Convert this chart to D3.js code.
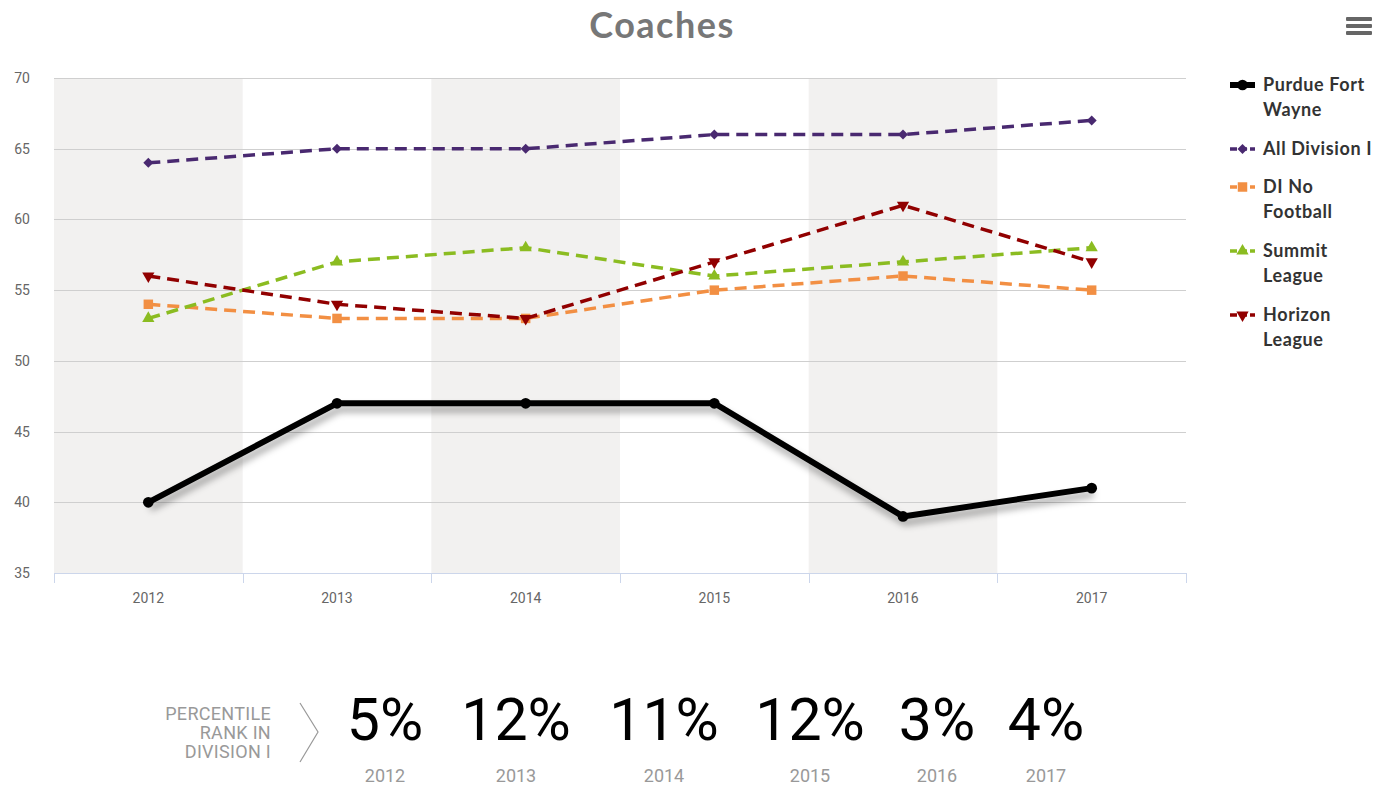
<!DOCTYPE html>
<html>
<head>
<meta charset="utf-8">
<script src="https://cdn.jsdelivr.net/npm/d3@7"></script>
<style>
  body { margin: 0; background: #fff; }
  svg { display: block; }
</style>
</head>
<body>
<svg id="chart" width="1392" height="788"></svg>
<script>
// data
var years = ["2012", "2013", "2014", "2015", "2016", "2017"];
var purdue = [40, 47, 47, 47, 39, 41];
var allDivI = [64, 65, 65, 66, 66, 67];
var diNoFootball = [54, 53, 53, 55, 56, 55];
var summit = [53, 57, 58, 56, 57, 58];
var horizon = [56, 54, 53, 57, 61, 57];
var yTicks = [35, 40, 45, 50, 55, 60, 65, 70];
var percentiles = ["5%", "12%", "11%", "12%", "3%", "4%"];
var percentileX = [385, 516, 664, 810, 937, 1046];

var series = [
    { name: ["Purdue Fort", "Wayne"], values: purdue, color: "#000000", symbol: "circle", dash: null, width: 6 },
    { name: ["All Division I"], values: allDivI, color: "#492970", symbol: "diamond", dash: "12,7", width: 3.5 },
    { name: ["DI No", "Football"], values: diNoFootball, color: "#f28f43", symbol: "square", dash: "12,7", width: 3.5 },
    { name: ["Summit", "League"], values: summit, color: "#8bbc21", symbol: "triangle", dash: "12,7", width: 3.5 },
    { name: ["Horizon", "League"], values: horizon, color: "#910000", symbol: "down", dash: "12,7", width: 3.5 }
];

var svg = d3.select("#chart");
var plotLeft = 54, plotRight = 1186, plotTop = 78, plotBottom = 573;

var x = d3.scaleBand().domain(years).range([plotLeft, plotRight]).padding(0);
var y = d3.scaleLinear().domain([35, 70]).range([plotBottom, plotTop]);
var cx = function (d, i) { return x(years[i]) + x.bandwidth() / 2; };

// shadow filter for the main line
var defs = svg.append("defs");
var f = defs.append("filter").attr("id", "shadow").attr("x", "-10%").attr("y", "-20%").attr("width", "120%").attr("height", "150%");
f.append("feDropShadow").attr("dx", 2).attr("dy", 6).attr("stdDeviation", 3.5)
    .attr("flood-color", "#000").attr("flood-opacity", 0.35);

// alternating bands
svg.append("g").selectAll("rect")
    .data(years.filter(function (d, i) { return i % 2 === 0; }))
    .enter().append("rect")
    .attr("x", function (d) { return x(d); })
    .attr("y", plotTop)
    .attr("width", x.bandwidth())
    .attr("height", plotBottom - plotTop)
    .attr("fill", "#f2f1f0");

// grid
svg.append("g").selectAll("line")
    .data(yTicks.slice(1))
    .enter().append("line")
    .attr("x1", plotLeft).attr("x2", plotRight)
    .attr("y1", function (d) { return Math.round(y(d)) + 0.5; })
    .attr("y2", function (d) { return Math.round(y(d)) + 0.5; })
    .attr("stroke", "#cfcfcf").attr("stroke-width", 1);

// y labels
svg.append("g").selectAll("text")
    .data(yTicks)
    .enter().append("text")
    .attr("x", 30)
    .attr("y", function (d) { return y(d) + 5; })
    .attr("text-anchor", "end")
    .attr("font-family", "Roboto, sans-serif")
    .attr("font-size", 14)
    .attr("fill", "#666")
    .text(function (d) { return d; });

// x axis
var xAxis = svg.append("g");
xAxis.append("line")
    .attr("x1", plotLeft).attr("x2", plotRight)
    .attr("y1", plotBottom + 0.5).attr("y2", plotBottom + 0.5)
    .attr("stroke", "#ccd6eb");
xAxis.selectAll("line.tick")
    .data(years.concat(["end"]))
    .enter().append("line")
    .attr("class", "tick")
    .attr("x1", function (d, i) { return Math.round(plotLeft + i * x.bandwidth()) + 0.5; })
    .attr("x2", function (d, i) { return Math.round(plotLeft + i * x.bandwidth()) + 0.5; })
    .attr("y1", plotBottom).attr("y2", plotBottom + 10)
    .attr("stroke", "#ccd6eb");
xAxis.selectAll("text")
    .data(years)
    .enter().append("text")
    .attr("x", function (d) { return x(d) + x.bandwidth() / 2; })
    .attr("y", plotBottom + 30)
    .attr("text-anchor", "middle")
    .attr("font-family", "Roboto, sans-serif")
    .attr("font-size", 14)
    .attr("fill", "#666")
    .text(function (d) { return d; });

// marker shapes (diamond = rotated square, like the original)
function symbolPath(s) {
    if (s === "circle") return d3.symbol().type(d3.symbolCircle).size(90)();
    if (s === "square") return d3.symbol().type(d3.symbolSquare).size(90)();
    if (s === "diamond") return d3.symbol().type(d3.symbolSquare).size(50)();
    return d3.symbol().type(d3.symbolTriangle).size(65)();
}
function symbolRotate(s) {
    if (s === "down") return " rotate(180)";
    if (s === "diamond") return " rotate(45)";
    return "";
}

var line = d3.line()
    .x(cx)
    .y(function (d) { return y(d); });

// draw series, black one last so it sits on top
series.slice(1).concat([series[0]]).forEach(function (s) {
    var g = svg.append("g");
    var path = g.append("path")
        .attr("d", line(s.values))
        .attr("fill", "none")
        .attr("stroke", s.color)
        .attr("stroke-width", s.width)
        .attr("stroke-linejoin", "round")
        .attr("stroke-linecap", "butt");
    if (s.dash) path.attr("stroke-dasharray", s.dash);
    if (s.width > 4) path.attr("filter", "url(#shadow)");

    g.selectAll("path.pt")
        .data(s.values)
        .enter().append("path")
        .attr("class", "pt")
        .attr("d", symbolPath(s.symbol))
        .attr("transform", function (d, i) {
            return "translate(" + cx(d, i) + "," + y(d) + ")" + symbolRotate(s.symbol);
        })
        .attr("fill", s.color);
});

// title
svg.append("text")
    .attr("x", 662).attr("y", 38)
    .attr("text-anchor", "middle")
    .attr("font-family", "Lato, 'Open Sans', sans-serif")
    .attr("font-weight", "bold")
    .attr("font-size", 36)
    .attr("letter-spacing", 1.5)
    .attr("fill", "#777")
    .text("Coaches");

// hamburger menu
svg.append("g").selectAll("rect")
    .data([0, 1, 2])
    .enter().append("rect")
    .attr("x", 1346).attr("y", function (d) { return 17 + d * 7; })
    .attr("width", 26).attr("height", 4)
    .attr("rx", 1)
    .attr("fill", "#666");

// legend
var legendY = [85, 149, 187, 251, 315];
var legend = svg.append("g").selectAll("g")
    .data(series)
    .enter().append("g")
    .attr("transform", function (d, i) { return "translate(1230," + legendY[i] + ")"; });
legend.append("line")
    .attr("x1", 0).attr("x2", 25)
    .attr("y1", 0).attr("y2", 0)
    .attr("stroke", function (d) { return d.color; })
    .attr("stroke-width", function (d) { return d.width; })
    .attr("stroke-dasharray", function (d) { return d.dash ? "7,3" : null; });
legend.append("path")
    .attr("d", function (d) { return symbolPath(d.symbol); })
    .attr("transform", function (d) { return "translate(12.5,0)" + symbolRotate(d.symbol); })
    .attr("fill", function (d) { return d.color; });
legend.each(function (d) {
    var t = d3.select(this).append("text")
        .attr("x", 33).attr("y", 6)
        .attr("font-family", "Lato, 'Open Sans', sans-serif")
        .attr("font-weight", "bold")
        .attr("font-size", 18)
        .attr("letter-spacing", 0.6)
        .attr("fill", "#333");
    d.name.forEach(function (n, k) {
        t.append("tspan").attr("x", 33).attr("dy", k === 0 ? 0 : 25).text(n);
    });
});

// percentile rank strip
var label = svg.append("text")
    .attr("text-anchor", "end")
    .attr("font-family", "Roboto, sans-serif")
    .attr("font-size", 18)
    .attr("letter-spacing", 0.3)
    .attr("fill", "#999");
["PERCENTILE", "RANK IN", "DIVISION I"].forEach(function (t, k) {
    label.append("tspan").attr("x", 271).attr("y", 720 + k * 19).text(t);
});
svg.append("path")
    .attr("d", "M300,703 L318,732 L300,762")
    .attr("fill", "none")
    .attr("stroke", "#999")
    .attr("stroke-width", 1.2);

svg.append("g").selectAll("text")
    .data(percentiles)
    .enter().append("text")
    .attr("x", function (d, i) { return percentileX[i]; })
    .attr("y", 740)
    .attr("text-anchor", "middle")
    .attr("font-family", "Roboto, sans-serif")
    .attr("font-weight", 400)
    .attr("font-size", 59)
    .attr("fill", "#000")
    .text(function (d) { return d; });

svg.append("g").selectAll("text")
    .data(years)
    .enter().append("text")
    .attr("x", function (d, i) { return percentileX[i]; })
    .attr("y", 782)
    .attr("text-anchor", "middle")
    .attr("font-family", "Roboto, sans-serif")
    .attr("font-size", 18)
    .attr("fill", "#999")
    .text(function (d) { return d; });
</script>
</body>
</html>
